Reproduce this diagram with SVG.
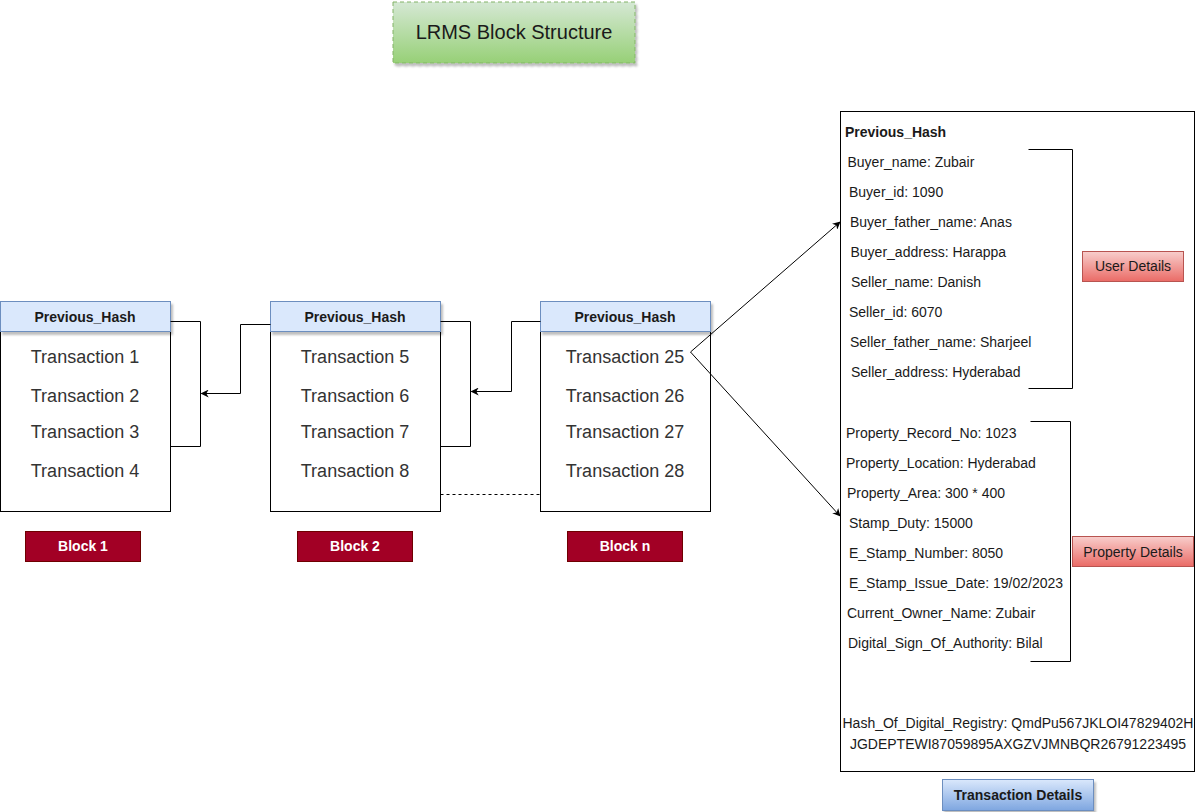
<svg xmlns="http://www.w3.org/2000/svg" width="1204" height="812" viewBox="0 0 1204 812">
<defs>
<linearGradient id="gGreen" x1="0" y1="0" x2="0" y2="1"><stop offset="0" stop-color="#d5e8d4"/><stop offset="1" stop-color="#97d077"/></linearGradient>
<linearGradient id="gRed" x1="0" y1="0" x2="0" y2="1"><stop offset="0" stop-color="#f8cecc"/><stop offset="1" stop-color="#ea6b66"/></linearGradient>
<linearGradient id="gBlue" x1="0" y1="0" x2="0" y2="1"><stop offset="0" stop-color="#dae8fc"/><stop offset="1" stop-color="#7ea6e0"/></linearGradient>
<filter id="sh" x="-10%" y="-10%" width="130%" height="140%"><feDropShadow dx="2" dy="3" stdDeviation="1" flood-color="#000" flood-opacity="0.25"/></filter>
<marker id="arr" viewBox="0 0 10 10" refX="9" refY="5" markerWidth="8" markerHeight="8" markerUnits="userSpaceOnUse" orient="auto"><path d="M0,0 L10,5 L0,10 L3,5 Z" fill="#000"/></marker>
<style>
text{font-family:"Liberation Sans",Arial,sans-serif;fill:#1a1a1a}
.box{fill:#fff;stroke:#000;stroke-width:1}
.hdr{fill:#dae8fc;stroke:#6c8ebf;stroke-width:1}
.hdrt{font-size:14px;font-weight:bold;text-anchor:middle}
.tx{font-size:18px;text-anchor:middle;fill:#333}
.blk{fill:#a20025;stroke:#6f0000;stroke-width:1}
.blkt{font-size:14px;font-weight:bold;fill:#fff;text-anchor:middle}
.it{font-size:14px}
.ln{fill:none;stroke:#000;stroke-width:1}
</style>
</defs>

<g id="title">
<rect x="393" y="2" width="242" height="61" fill="url(#gGreen)" stroke="#82b366" stroke-dasharray="4 3" filter="url(#sh)"/>
<text x="514" y="39" font-size="20" text-anchor="middle">LRMS Block Structure</text>
</g>

<g id="block1">
<rect class="box" x="0.5" y="301.5" width="170" height="210"/>
<rect class="hdr" x="0.5" y="301.5" width="170" height="30" filter="url(#sh)"/>
<text class="hdrt" x="85" y="322">Previous_Hash</text>
<text class="tx" x="85" y="362.5">Transaction 1</text>
<text class="tx" x="85" y="402">Transaction 2</text>
<text class="tx" x="85" y="437.5">Transaction 3</text>
<text class="tx" x="85" y="476.5">Transaction 4</text>
</g>

<g id="block2">
<rect class="box" x="270.5" y="301.5" width="170" height="210"/>
<rect class="hdr" x="270.5" y="301.5" width="170" height="30" filter="url(#sh)"/>
<text class="hdrt" x="355" y="322">Previous_Hash</text>
<text class="tx" x="355" y="362.5">Transaction 5</text>
<text class="tx" x="355" y="402">Transaction 6</text>
<text class="tx" x="355" y="437.5">Transaction 7</text>
<text class="tx" x="355" y="476.5">Transaction 8</text>
</g>

<g id="blockn">
<rect class="box" x="540.5" y="301.5" width="170" height="210"/>
<rect class="hdr" x="540.5" y="301.5" width="170" height="30" filter="url(#sh)"/>
<text class="hdrt" x="625" y="322">Previous_Hash</text>
<text class="tx" x="625" y="362.5">Transaction 25</text>
<text class="tx" x="625" y="402">Transaction 26</text>
<text class="tx" x="625" y="437.5">Transaction 27</text>
<text class="tx" x="625" y="476.5">Transaction 28</text>
</g>

<g id="label-block1">
<rect class="blk" x="25.5" y="531.5" width="115" height="30"/>
<text class="blkt" x="83" y="551">Block 1</text>
</g>
<g id="label-block2">
<rect class="blk" x="297.5" y="531.5" width="115" height="30"/>
<text class="blkt" x="355" y="551">Block 2</text>
</g>
<g id="label-blockn">
<rect class="blk" x="567.5" y="531.5" width="115" height="30"/>
<text class="blkt" x="625" y="551">Block n</text>
</g>

<g id="transaction-details">
<rect class="box" x="840.5" y="111.5" width="354" height="660"/>
<text class="it" x="845" y="137" font-weight="bold">Previous_Hash</text>
<text class="it" x="847.5" y="167">Buyer_name: Zubair</text>
<text class="it" x="849" y="197">Buyer_id: 1090</text>
<text class="it" x="850" y="227">Buyer_father_name: Anas</text>
<text class="it" x="850.5" y="257">Buyer_address: Harappa</text>
<text class="it" x="851" y="287">Seller_name: Danish</text>
<text class="it" x="849" y="317">Seller_id: 6070</text>
<text class="it" x="850" y="347">Seller_father_name: Sharjeel</text>
<text class="it" x="851" y="377">Seller_address: Hyderabad</text>
<text class="it" x="846" y="437.5">Property_Record_No: 1023</text>
<text class="it" x="846" y="467.5">Property_Location: Hyderabad</text>
<text class="it" x="847" y="497.5">Property_Area: 300 * 400</text>
<text class="it" x="849" y="527.5">Stamp_Duty: 15000</text>
<text class="it" x="849" y="557.5">E_Stamp_Number: 8050</text>
<text class="it" x="849" y="587.5">E_Stamp_Issue_Date: 19/02/2023</text>
<text class="it" x="847" y="617.5">Current_Owner_Name: Zubair</text>
<text class="it" x="848" y="647.5">Digital_Sign_Of_Authority: Bilal</text>
<text class="it" x="1018" y="727.5" text-anchor="middle">Hash_Of_Digital_Registry: QmdPu567JKLOI47829402H</text>
<text class="it" x="1018" y="748.5" text-anchor="middle">JGDEPTEWI87059895AXGZVJMNBQR26791223495</text>
</g>

<g id="user-details">
<rect x="1082.5" y="251.5" width="101" height="30" fill="url(#gRed)" stroke="#b85450"/>
<text class="it" x="1133" y="271" text-anchor="middle">User Details</text>
</g>
<g id="property-details">
<rect x="1072.5" y="536.5" width="121" height="30" fill="url(#gRed)" stroke="#b85450"/>
<text class="it" x="1133" y="556.5" text-anchor="middle">Property Details</text>
</g>
<g id="transaction-details-label">
<rect x="942.5" y="779.5" width="151" height="31" fill="url(#gBlue)" stroke="#6c8ebf" filter="url(#sh)"/>
<text class="it" x="1018" y="800" text-anchor="middle" font-weight="bold">Transaction Details</text>
</g>

<g id="connectors">
<path class="ln" d="M170.5,321.5 H200.5 V446.5 H170.5"/>
<path class="ln" d="M440.5,321.5 H470.5 V446.5 H440.5"/>
<path class="ln" d="M270.5,324.5 H240.5 V393.5 H201.5" marker-end="url(#arr)"/>
<path class="ln" d="M540.5,321.5 H511.5 V391.5 H471.5" marker-end="url(#arr)"/>
<path class="ln" d="M440.5,494.5 H540.5" stroke-dasharray="3 3"/>
<path class="ln" d="M690.5,352 L840,222" marker-end="url(#arr)"/>
<path class="ln" d="M690.5,352 L840,516" marker-end="url(#arr)"/>
<path class="ln" d="M1028.5,149.5 H1072.5 V388.5 H1028.5" stroke="#555"/>
<path class="ln" d="M1030.5,421.5 H1070.5 V661.5 H1030.5"/>
</g>
</svg>
